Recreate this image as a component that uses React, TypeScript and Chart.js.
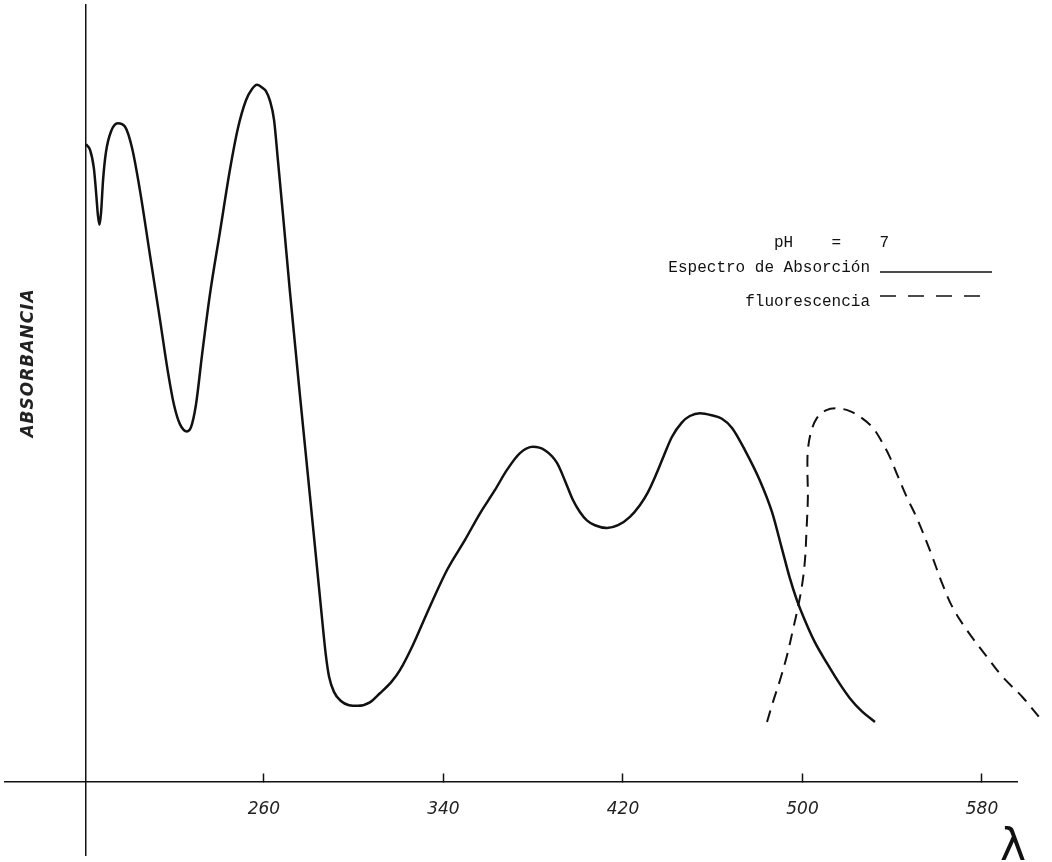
import React, { useEffect, useRef } from 'react';
import { Chart, registerables } from 'chart.js';

Chart.register(...registerables);

// Wavelength (nm) and relative absorbance of the absorption spectrum (solid)
const ABS_WAVELENGTH = [
  180.7, 182.5, 184.2, 185.1, 186.0, 186.7, 187.4, 188.3, 189.6, 191.8,
  194.9, 198.1, 201.2, 204.7, 209.2, 213.7, 217.2, 219.9, 222.6, 225.7,
  227.5, 229.7, 232.4, 235.9, 240.4, 244.8, 248.4, 252.0, 254.7, 256.9,
  259.6, 260.9, 262.7, 264.5, 266.2, 268.5, 271.6, 276.0, 280.5, 285.0,
  287.6, 289.0, 291.2, 294.3, 297.9, 301.9, 307.2, 311.7, 317.0, 320.6,
  326.4, 332.6, 341.6, 349.6, 356.3, 362.9, 368.3, 374.1, 379.9, 385.2,
  390.6, 394.1, 397.7, 400.8, 403.9, 407.5, 412.9, 417.8, 423.1, 427.6,
  431.1, 434.7, 438.3, 441.8, 446.3, 449.8, 454.3, 459.6, 464.1, 468.6,
  474.4, 481.0, 486.4, 490.8, 494.4, 497.5, 501.1, 505.5, 510.9, 516.7,
  521.1, 526.5, 532.3,
];
const ABSORBANCE = [
  0.911, 0.903, 0.877, 0.846, 0.810, 0.796, 0.813, 0.860, 0.900, 0.929,
  0.941, 0.936, 0.906, 0.846, 0.753, 0.660, 0.586, 0.539, 0.511, 0.501,
  0.507, 0.539, 0.610, 0.696, 0.786, 0.874, 0.934, 0.974, 0.990, 0.996,
  0.991, 0.987, 0.973, 0.946, 0.889, 0.810, 0.700, 0.554, 0.409, 0.263,
  0.181, 0.151, 0.129, 0.116, 0.110, 0.109, 0.114, 0.127, 0.144, 0.160,
  0.196, 0.241, 0.303, 0.346, 0.384, 0.417, 0.446, 0.470, 0.479, 0.474,
  0.456, 0.431, 0.403, 0.386, 0.374, 0.367, 0.363, 0.367, 0.379, 0.396,
  0.414, 0.439, 0.467, 0.493, 0.514, 0.523, 0.527, 0.524, 0.519, 0.506,
  0.474, 0.431, 0.386, 0.334, 0.291, 0.260, 0.231, 0.200, 0.170, 0.140,
  0.120, 0.101, 0.086,
];

// Wavelength (nm) and relative intensity of the fluorescence spectrum (dashed)
const FLU_WAVELENGTH = [
  484.2, 486.8, 490.0, 493.1, 495.7, 498.0, 499.8, 501.1, 501.8, 502.4,
  502.2, 502.4, 503.8, 506.4, 510.4, 515.3, 521.1, 526.5, 531.4, 535.4,
  539.0, 542.5, 546.5, 551.0, 556.8, 562.6, 567.0, 573.3, 582.2, 589.3,
  598.2, 607.2,
];
const FLUORESCENCE = [
  0.086, 0.114, 0.146, 0.181, 0.217, 0.250, 0.281, 0.317, 0.360, 0.407,
  0.446, 0.474, 0.500, 0.520, 0.531, 0.534, 0.530, 0.520, 0.506, 0.486,
  0.464, 0.437, 0.407, 0.377, 0.331, 0.281, 0.249, 0.217, 0.179, 0.150,
  0.121, 0.086,
];

const X_TICKS = [260, 340, 420, 500, 580];
const SERIES_LABELS = ['Espectro de Absorción', 'fluorescencia'];
const LEGEND_TITLE = 'pH    =    7';
const Y_TITLE = 'ABSORBANCIA';
const X_TITLE = 'λ';

const X_MIN = 144.6;
const X_MAX = 595.6;
const Y_AXIS_AT = 180.7;
const Y_MIN = -0.104;
const Y_MAX = 1.11;

const handLabels = {
  id: 'handLabels',
  afterDraw(chart: any) {
    const ctx = chart.ctx as CanvasRenderingContext2D;
    // Y axis title (rotated)
    ctx.save();
    ctx.translate(29, 363);
    ctx.rotate(-Math.PI / 2);
    ctx.font = 'bold italic 17px "DejaVu Sans"';
    (ctx as any).letterSpacing = '1px';
    ctx.textAlign = 'center';
    ctx.textBaseline = 'middle';
    ctx.fillStyle = '#222';
    ctx.fillText(Y_TITLE, 0, 0);
    ctx.restore();

    // X axis title
    ctx.save();
    ctx.font = '44px "DejaVu Sans"';
    ctx.textAlign = 'center';
    ctx.textBaseline = 'alphabetic';
    ctx.fillStyle = '#111';
    ctx.fillText(X_TITLE, 1013, 860);
    ctx.restore();

    // Legend
    ctx.save();
    ctx.font = '16px "Liberation Mono"';
    ctx.fillStyle = '#111';
    ctx.textBaseline = 'middle';
    ctx.textAlign = 'left';
    ctx.fillText(LEGEND_TITLE, 774, 243);
    chart.data.datasets.forEach((ds: any, i: number) => {
      const y = 268 + 34 * i;
      ctx.textAlign = 'right';
      ctx.fillText(ds.label, 870, y);
      const ly = i === 0 ? y + 4 : y - 6;
      ctx.beginPath();
      ctx.setLineDash(ds.borderDash ? [16, 12] : []);
      ctx.lineWidth = 1.5;
      ctx.strokeStyle = ds.borderColor;
      ctx.moveTo(880, ly);
      ctx.lineTo(992, ly);
      ctx.stroke();
    });
    ctx.restore();
  },
};

export default function App() {
  const canvasRef = useRef<HTMLCanvasElement | null>(null);

  useEffect(() => {
    if (!canvasRef.current) return;
    const chart = new Chart(canvasRef.current, {
      type: 'line',
      data: {
        datasets: [
          {
            label: SERIES_LABELS[0],
            data: ABS_WAVELENGTH.map((x, i) => ({ x, y: ABSORBANCE[i] })),
            borderColor: '#111',
            borderWidth: 2.5,
            pointRadius: 0,
            cubicInterpolationMode: 'monotone',
            fill: false,
          },
          {
            label: SERIES_LABELS[1],
            data: FLU_WAVELENGTH.map((x, i) => ({ x, y: FLUORESCENCE[i] })),
            borderColor: '#111',
            borderWidth: 2,
            borderDash: [12, 8],
            pointRadius: 0,
            tension: 0.35,
            fill: false,
            clip: false,
          } as any,
        ],
      },
      options: {
        responsive: false,
        animation: false,
        layout: { padding: { left: 5, top: 5, right: 35, bottom: 7 } },
        plugins: {
          legend: { display: false },
          tooltip: { enabled: false },
        },
        scales: {
          x: {
            type: 'linear',
            min: X_MIN,
            max: X_MAX,
            position: { y: 0 } as any,
            afterBuildTicks: (scale: any) => {
              scale.ticks = X_TICKS.map((v) => ({ value: v }));
            },
            grid: {
              drawOnChartArea: false,
              drawTicks: true,
              tickLength: -9,
              tickWidth: 1.5,
              tickColor: '#111',
            },
            border: { display: true, color: '#111', width: 1.5 },
            ticks: {
              padding: 26,
              color: '#222',
              font: { family: '"DejaVu Sans"', size: 17, style: 'italic' },
              maxRotation: 0,
              autoSkip: false,
            },
          },
          y: {
            type: 'linear',
            min: Y_MIN,
            max: Y_MAX,
            position: { x: Y_AXIS_AT } as any,
            grid: { drawOnChartArea: false, drawTicks: false },
            border: { display: true, color: '#111', width: 1.5 },
            ticks: { display: false },
          },
        },
      },
      plugins: [handLabels],
    });
    return () => chart.destroy();
  }, []);

  return (
    <canvas
      ref={canvasRef}
      width={1052}
      height={862}
      style={{ position: 'fixed', left: 0, top: 0, width: 1052, height: 862 }}
    />
  );
}
